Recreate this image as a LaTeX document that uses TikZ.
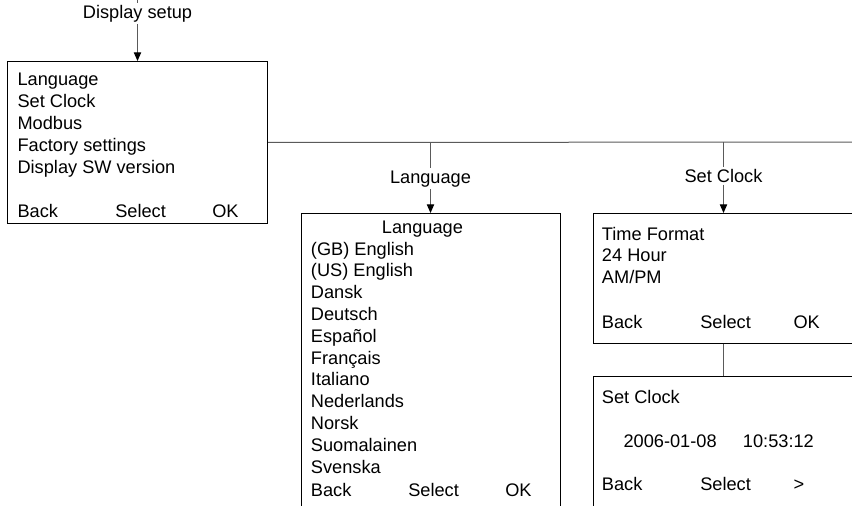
\documentclass[tikz,border=0pt]{standalone}
\usepackage{fontspec}
\setmainfont{Liberation Sans}
\usetikzlibrary{arrows.meta,positioning}
\definecolor{menuline}{RGB}{90,90,90}
\tikzset{
  menubox/.style={draw=black, line width=0.75pt, anchor=north west, inner sep=0pt},
  menutxt/.style={anchor=base west, inner sep=0pt, font=\fontsize{13.65}{16}\selectfont},
  branchlbl/.style={anchor=base, inner sep=1.5pt, font=\fontsize{13.65}{16}\selectfont},
  branch/.style={draw=menuline, line width=0.75pt},
  into/.style={branch, -{Triangle[length=6.5pt,width=5.5pt,black]}}
}

\begin{document}
\begin{tikzpicture}[x=0.75pt,y=-0.75pt]
\useasboundingbox (0,0) rectangle (852,506);
\clip (0,0) rectangle (852,506);

% menu screens
\node[menubox, minimum width=195pt, minimum height=121.5pt] (mainbox) at (7,61) {};
\node[menubox, minimum width=194.5pt, minimum height=225pt] (langbox) at (300.7,213) {};
\node[menubox, minimum width=202.5pt, minimum height=97.3pt] (tfbox) at (592.7,213) {};
\node[menubox, minimum width=202.5pt, minimum height=105pt] (scbox) at (592.7,376) {};

% branch labels
\node[branchlbl] (dsetup) at (137.5,18.3) {Display setup};
\node[branchlbl] (langlbl) at (430.5,183) {Language};
\node[branchlbl] (clklbl) at (723.5,182.3) {Set Clock};

% connectors
\coordinate (dtop) at (137.5,-2);
\coordinate (busend) at (870,142);
\draw[branch] (dtop) -- (dsetup);
\draw[into] (dsetup) -- (dsetup |- mainbox.north);
\draw[branch] (mainbox.east) -- (busend);
\draw[branch] (langlbl |- mainbox.east) -- (langlbl);
\draw[into] (langlbl) -- (langlbl |- langbox.north);
\draw[branch] (clklbl |- mainbox.east) -- (clklbl);
\draw[into] (clklbl) -- (clklbl |- tfbox.north);
\draw[branch] (clklbl |- tfbox.south) -- (clklbl |- scbox.north);

% main menu
\foreach \t [count=\i] in {Language,Set Clock,Modbus,Factory settings,Display SW version}{
  \node[menutxt] (mainitem\i) at (17.3,{86+21.9*(\i-1)}) {\t};
}
\node[menutxt] (mainback) at (17.3,217.4) {Back};
\node[menutxt] (mainsel) at (115,217.4) {Select};
\node[menutxt] (mainok) at (212,217.4) {OK};

% language menu
\node[menutxt] (langhead) at (381.7,233.3) {Language};
\foreach \t [count=\i] in {{(GB) English},{(US) English},Dansk,Deutsch,Español,Français,Italiano,Nederlands,Norsk,Suomalainen,Svenska}{
  \node[menutxt] (langitem\i) at (310.7,{255+21.8*(\i-1)}) {\t};
}
\node[menutxt] (langback) at (310.7,496.7) {Back};
\node[menutxt] (langsel) at (408,496.7) {Select};
\node[menutxt] (langok) at (505,496.7) {OK};

% time format
\foreach \t [count=\i] in {Time Format,24 Hour,AM/PM}{
  \node[menutxt] (tfitem\i) at (601.7,{240+21.7*(\i-1)}) {\t};
}
\node[menutxt] (tfback) at (601.7,328.3) {Back};
\node[menutxt] (tfsel) at (700,328.3) {Select};
\node[menutxt] (tfok) at (793.3,328.3) {OK};

% set clock
\node[menutxt] (schead) at (601.7,403.3) {Set Clock};
\node[menutxt] (scdate) at (623.3,447.3) {2006-01-08};
\node[menutxt] (sctime) at (742.7,447.3) {10:53:12};
\node[menutxt] (scback) at (601.7,490.7) {Back};
\node[menutxt] (scsel) at (700,490.7) {Select};
\node[menutxt] (scnext) at (793.3,490.7) {>};
\end{tikzpicture}
\end{document}
